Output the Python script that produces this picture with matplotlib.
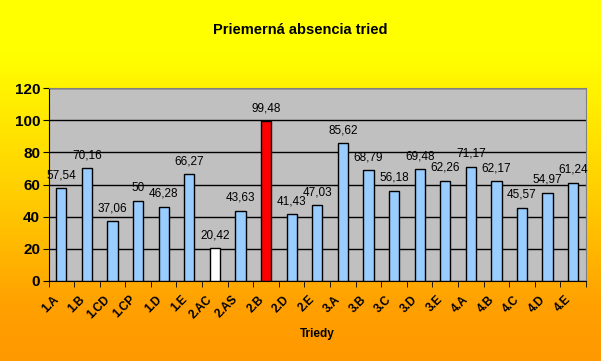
import matplotlib
matplotlib.use("Agg")
import matplotlib.pyplot as plt
import matplotlib.transforms as mtransforms
from matplotlib.colors import LinearSegmentedColormap
import numpy as np

classes = ["1.A", "1.B", "1.CD", "1.CP", "1.D", "1.E", "2.AC", "2.AS", "2.B",
           "2.D", "2.E", "3.A", "3.B", "3.C", "3.D", "3.E", "4.A", "4.B",
           "4.C", "4.D", "4.E"]
absence = [57.54, 70.16, 37.06, 50, 46.28, 66.27, 20.42, 43.63, 99.48,
           41.43, 47.03, 85.62, 68.79, 56.18, 69.48, 62.26, 71.17, 62.17,
           45.57, 54.97, 61.24]
special = {"2.AC": "white", "2.B": "#FF0000"}

plt.rcParams["font.family"] = ["Liberation Sans", "DejaVu Sans"]

fig = plt.figure(figsize=(6.01, 3.61), dpi=100)

# yellow -> orange background
bg = fig.add_axes([0, 0, 1, 1], zorder=-10)
bg.axis("off")
cmap = LinearSegmentedColormap.from_list(
    "bg", [(0, "#FFFF00"), (0.15, "#FFFF00"), (0.55, "#FFCC00"), (0.85, "#FFA000"), (1, "#FF9900")])
grad = np.linspace(0, 1, 256).reshape(-1, 1)
bg.imshow(grad, aspect="auto", cmap=cmap, extent=[0, 1, 0, 1], origin="upper")

ax = fig.add_axes([48.5 / 601, 1 - 281 / 361, (586 - 48.5) / 601, (281 - 88) / 361])
ax.set_facecolor("#C0C0C0")
x = np.arange(len(classes))
colors = [special.get(c, "#99CCFF") for c in classes]
ax.bar(x, absence, width=0.4, color=colors, edgecolor="black", linewidth=1, zorder=3)

for xi, v in zip(x, absence):
    lbl = f"{v:g}".replace(".", ",")
    t = ax.annotate(lbl, (xi, v), xytext=(0, 5), textcoords="offset points",
                    ha="center", va="bottom", fontsize=8.5, zorder=4)
    t.set_clip_on(True)

ax.set_xlim(-0.5, len(classes) - 0.5)
ax.set_ylim(0, 120)
ax.set_yticks(range(0, 121, 20))
ax.yaxis.grid(True, color="black", linewidth=1, zorder=1)
ax.set_axisbelow(True)
for lbl in ax.get_yticklabels():
    lbl.set_fontweight("bold")
ax.tick_params(axis="y", labelsize=11, length=4, direction="out", pad=2)

ax.set_xticks(x)
ax.set_xticklabels(classes, rotation=45, ha="right", va="center",
                   rotation_mode="anchor", fontsize=8.5, fontweight="bold")
ax.tick_params(axis="x", length=0, pad=12)
shift = mtransforms.ScaledTranslation(-4 / 100, 0, fig.dpi_scale_trans)
for lbl in ax.get_xticklabels():
    lbl.set_transform(lbl.get_transform() + shift)
ax.set_xticks(np.arange(-0.5, len(classes), 1), minor=True)
ax.tick_params(axis="x", which="minor", length=4, direction="out")

for side in ("top", "right"):
    ax.spines[side].set_color("#808080")
for side in ("left", "bottom"):
    ax.spines[side].set_color("black")

fig.text(0.5, 1 - 30 / 361, "Priemerná absencia tried", ha="center", va="center",
         fontsize=10.5, fontweight="bold")
ax.set_xlabel("Triedy", fontsize=8.5, fontweight="bold")
ax.xaxis.set_label_coords(0.5, -53 / (281 - 88))
ax.xaxis.label.set_va("center")

fig.savefig("out.png", dpi=100)
